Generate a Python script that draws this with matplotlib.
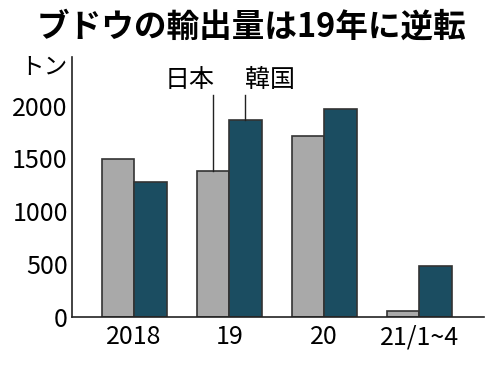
import numpy as np
import matplotlib
matplotlib.use('Agg')
import matplotlib.pyplot as plt

plt.rcParams['font.family'] = ['Noto Sans CJK JP', 'DejaVu Sans']

categories = ['2018', '19', '20', '21/1~4']
japan = [1490, 1380, 1710, 55]
korea = [1275, 1865, 1970, 480]
yticks = [0, 500, 1000, 1500, 2000]

gray = '#a9a9a9'
teal = '#1b4d61'
edge = '#333333'

fig = plt.figure(figsize=(5, 3.67), dpi=100)
ax = fig.add_axes([0.144, 0.136, 0.824, 0.709])

x = np.arange(len(categories))
w = 0.342
ax.bar(x - w / 2, japan, w, color=gray, edgecolor=edge, linewidth=1.2)
ax.bar(x + w / 2, korea, w, color=teal, edgecolor=edge, linewidth=1.2)

ax.set_xlim(-0.653, 3.68)
ax.set_ylim(0, 2460)
ax.set_xticks(x)
ax.set_xticklabels(categories)
ax.set_yticks(yticks)
ax.tick_params(axis='both', length=0, labelsize=18, pad=3)
ax.tick_params(axis='x', pad=5)
for s in ['top', 'right']:
    ax.spines[s].set_visible(False)
for s in ['left', 'bottom']:
    ax.spines[s].set_linewidth(1.2)
    ax.spines[s].set_color('#222222')

# series labels with leader lines
ax.text(0.58, 2240, '日本', ha='center', va='center', fontsize=18)
ax.plot([1 - w / 2, 1 - w / 2], [japan[1], 2100], color='#222222', lw=1)
ax.text(1.43, 2240, '韓国', ha='center', va='center', fontsize=18)
ax.plot([1 + w / 2, 1 + w / 2], [korea[1], 2100], color='#222222', lw=1)

fig.text(0.04, 0.82, 'トン', fontsize=17, ha='left', va='center')
fig.text(0.503, 0.925, 'ブドウの輸出量は19年に逆転', fontsize=23.5,
         fontweight='bold', ha='center', va='center')

fig.savefig('out.png', dpi=100)
